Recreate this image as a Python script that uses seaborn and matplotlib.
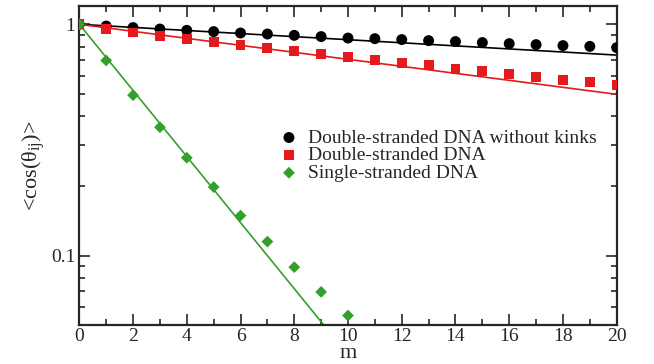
import numpy as np
import pandas as pd
import matplotlib
matplotlib.use("Agg")
import matplotlib.pyplot as plt
import seaborn as sns
from matplotlib.ticker import MultipleLocator, FixedLocator, FixedFormatter, LogLocator, NullFormatter

# Orientational correlation <cos(theta_ij)> versus segment separation m
m = list(range(21))
ds_no_kinks = [1.0, 0.983, 0.968, 0.954, 0.942, 0.930, 0.917, 0.908, 0.896, 0.885, 0.872,
               0.867, 0.859, 0.850, 0.842, 0.834, 0.825, 0.817, 0.809, 0.803, 0.793]
ds_dna = [1.0, 0.951, 0.921, 0.890, 0.861, 0.838, 0.814, 0.790, 0.767, 0.747, 0.725,
          0.703, 0.683, 0.665, 0.643, 0.626, 0.608, 0.591, 0.576, 0.561, 0.545]
m_ss = list(range(11))
ss_dna = [1.0, 0.698, 0.494, 0.359, 0.265, 0.198, 0.149, 0.115, 0.0892, 0.0697, 0.0551]

labels = ["Double-stranded DNA without kinks", "Double-stranded DNA", "Single-stranded DNA"]
# exponential fits exp(-m / L): decay lengths in segments
fit_lengths = [65.3, 28.7, 3.04]

colors = ["#000000", "#e41a1c", "#33a02c"]
markers = ["o", "s", "D"]
msizes = [62, 50, 36]

sns.set_style("ticks")
plt.rcParams["font.family"] = ["Liberation Serif", "DejaVu Serif"]
plt.rcParams["mathtext.fontset"] = "custom"
plt.rcParams["mathtext.rm"] = "Liberation Serif"

fig = plt.figure(figsize=(6.54, 3.64), dpi=100)
ax = fig.add_axes([79.3 / 654, 1 - 325.3 / 364, (616.7 - 79.3) / 654, (325.3 - 6) / 364])

series = [(m, ds_no_kinks), (m, ds_dna), (m_ss, ss_dna)]
fit_m = np.linspace(0, 20, 201)
for (xs, ys), lab, L, c, mk, s in zip(series, labels, fit_lengths, colors, markers, msizes):
    fit_df = pd.DataFrame({"m": fit_m, "c": np.exp(-fit_m / L)})
    sns.lineplot(data=fit_df, x="m", y="c", ax=ax, color=c, lw=1.2, legend=False)
    df = pd.DataFrame({"m": xs, "c": ys})
    sns.scatterplot(data=df, x="m", y="c", ax=ax, color=c, marker=mk, s=s,
                    edgecolor="none", label=lab, zorder=3)

ax.set_yscale("log")
ax.set_xlim(0, 20)
ax.set_ylim(0.05, 1.2)

ax.xaxis.set_major_locator(MultipleLocator(2))
ax.xaxis.set_minor_locator(MultipleLocator(1))
ax.yaxis.set_major_locator(FixedLocator([0.1, 1]))
ax.yaxis.set_major_formatter(FixedFormatter(["0.1", "1"]))
ax.yaxis.set_minor_locator(LogLocator(base=10, subs=np.arange(2, 10)))
ax.yaxis.set_minor_formatter(NullFormatter())

ax.tick_params(which="both", direction="in", top=True, right=True, width=1.2,
               labelsize=14)
ax.tick_params(axis="x", pad=2)
ax.tick_params(axis="y", pad=3)
ax.tick_params(which="major", length=8)
ax.tick_params(which="minor", length=4)
for sp in ax.spines.values():
    sp.set_linewidth(1.6)

ax.set_xlabel("m", fontsize=16, labelpad=-1)
ax.set_ylabel(r"<cos(θ$_{\rm ij}$)>", fontsize=16, labelpad=2)

leg = ax.legend(loc="center left", bbox_to_anchor=(0.372, 0.532), frameon=False,
                fontsize=14, handlelength=1.0, handletextpad=0.5, borderpad=0,
                borderaxespad=0, labelspacing=0.0)

fig.savefig("out.png", dpi=100)
